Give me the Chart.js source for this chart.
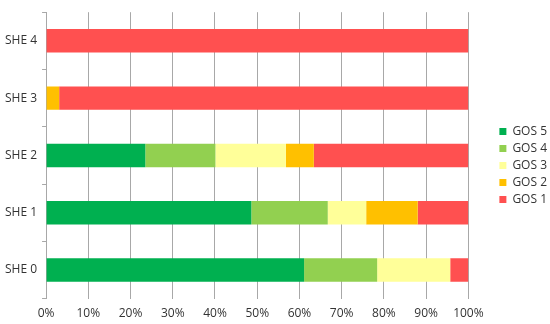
<!DOCTYPE html>
<html>
<head>
<meta charset="utf-8">
<script src="https://cdn.jsdelivr.net/npm/chart.js@4/dist/chart.umd.min.js"></script>
<style>
  body { margin: 0; background: #fff; }
  #wrap { width: 550px; height: 324px; position: relative; }
</style>
</head>
<body>
<div id="wrap"><canvas id="chart"></canvas></div>
<script>
// ***************************************************
// Data (percent of patients per GOS class)
// ***************************************************

var categories = ['SHE 4', 'SHE 3', 'SHE 2', 'SHE 1', 'SHE 0'];
var seriesNames = ['GOS 5', 'GOS 4', 'GOS 3', 'GOS 2', 'GOS 1'];
var gos5 = [0, 0, 23.5, 48.6, 61.1];
var gos4 = [0, 0, 16.6, 18.1, 17.3];
var gos3 = [0, 0, 16.7, 9.1, 17.3];
var gos2 = [0, 3.1, 6.6, 12.2, 0];
var gos1 = [100, 96.9, 36.6, 12.0, 4.3];
var xTicks = [0, 10, 20, 30, 40, 50, 60, 70, 80, 90, 100];

var colors = ['#00b050', '#92d050', '#ffff99', '#ffc000', '#ff5050'];

(function() {

  var series = [gos5, gos4, gos3, gos2, gos1];
  var font = { family: '"Open Sans", sans-serif', size: 12 };
  var gridColor = '#a8a8a8';

  // extra room taken by the legend, and how far its items are pushed right
  var legendGap = 19;
  var legendShift = 26;

  var datasets = series.map(function(values, i) {
    return {
      label: seriesNames[i],
      data: values,
      backgroundColor: colors[i],
      borderWidth: 0,
      categoryPercentage: 1,
      barPercentage: 0.41
    };
  });

  // ***************************************************
  // Small plugin: leave white space between plot and legend
  // ***************************************************

  var legendSpacer = {
    id: 'legendSpacer',
    afterInit: function(chart) {
      var legend = chart.legend;
      var fit = legend.fit;
      legend.fit = function() {
        fit.call(this);
        this.width += legendGap;
      };
    },
    afterLayout: function(chart) {
      chart.legend.left += legendShift;
      chart.legend.right += legendShift;
    }
  };

  new Chart(document.getElementById('chart'), {
    type: 'bar',
    data: { labels: categories, datasets: datasets },
    plugins: [legendSpacer],
    options: {
      indexAxis: 'y',
      responsive: true,
      maintainAspectRatio: false,
      animation: false,
      layout: { padding: { left: 0, right: 0, top: 7, bottom: 0 } },
      plugins: {
        tooltip: { enabled: false },
        legend: {
          position: 'right',
          labels: {
            boxWidth: 7,
            boxHeight: 7,
            padding: 5,
            color: '#333',
            font: font
          }
        }
      },
      scales: {
        x: {
          stacked: true,
          min: 0,
          max: 100,
          afterBuildTicks: function(scale) {
            scale.ticks = xTicks.map(function(v) { return { value: v }; });
          },
          // tick padding is counted twice in the axis height, take some back
          afterFit: function(scale) {
            scale.height -= 5;
          },
          border: { display: false },
          grid: { color: gridColor, drawTicks: false },
          ticks: {
            color: '#333',
            font: font,
            padding: 8,
            maxRotation: 0,
            callback: function(v) { return v + '%'; }
          }
        },
        y: {
          stacked: true,
          border: { display: true, color: gridColor },
          grid: { drawOnChartArea: false, color: gridColor, tickLength: 4 },
          ticks: { color: '#333', font: font, padding: 5 }
        }
      }
    }
  });

})();
</script>
</body>
</html>
